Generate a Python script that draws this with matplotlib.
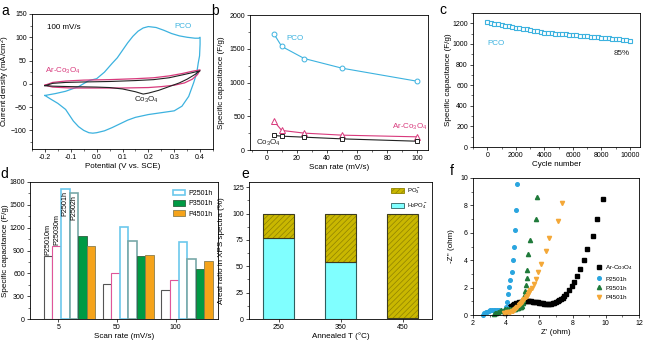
import numpy as np
import matplotlib
matplotlib.use("Agg")
import matplotlib.pyplot as plt
from matplotlib.ticker import AutoMinorLocator, MultipleLocator
from matplotlib.patches import Patch

plt.rcParams['font.family'] = ['Liberation Sans', 'DejaVu Sans']
plt.rcParams['mathtext.fontset'] = 'custom'
plt.rcParams['mathtext.rm'] = 'Liberation Sans'
plt.rcParams['mathtext.it'] = 'Liberation Sans:italic'
plt.rcParams['mathtext.bf'] = 'Liberation Sans:bold'
plt.rcParams['mathtext.default'] = 'regular'
plt.rcParams['axes.linewidth'] = 0.6
plt.rcParams['hatch.linewidth'] = 0.5

# ---- (a) CV curves at 100 mV/s ----
pco_v = [-0.20, -0.16, -0.12, -0.07, -0.03, 0.00, 0.03, 0.06, 0.08, 0.10, 0.12, 0.14, 0.16, 0.18,
         0.20, 0.23, 0.26, 0.29, 0.32, 0.35, 0.38, 0.395, 0.40, 0.40, 0.398, 0.393, 0.387, 0.375,
         0.356, 0.33, 0.30, 0.25, 0.20, 0.15, 0.12, 0.09, 0.06, 0.03, 0.00, -0.015, -0.03, -0.05,
         -0.07, -0.09, -0.12, -0.15, -0.18, -0.20]
pco_j = [-25, -21, -16, -6, 7, 11, 25, 44, 56, 72, 88, 102, 113, 120,
         123, 121, 115, 108, 103, 100, 98, 98, 100, 85, 60, 45, 23, 2,
         -27, -48, -58, -62, -66, -72, -78, -86, -94, -101, -105, -106, -105, -100,
         -92, -80, -55, -42, -32, -25]
co_v = [-0.20, -0.17, -0.12, -0.05, 0.05, 0.15, 0.22, 0.28, 0.33, 0.37, 0.40, 0.38, 0.35, 0.32,
        0.28, 0.24, 0.20, 0.18, 0.15, 0.10, 0.05, 0.00, -0.10, -0.17, -0.20]
co_j = [-4, 1, 3, 4, 5, 7, 9, 13, 19, 24, 28, 20, 10, 2, -6, -14, -20, -22, -17, -11, -8, -7, -6, -5, -4]
ar_v = [-0.20, -0.17, -0.12, -0.05, 0.05, 0.15, 0.22, 0.28, 0.33, 0.37, 0.40, 0.39, 0.37, 0.34,
        0.30, 0.25, 0.20, 0.10, 0.00, -0.10, -0.17, -0.20]
ar_j = [-3, 3, 6, 8, 9, 11, 13, 17, 22, 27, 30, 20, 10, 2, -3, -6, -8, -9, -9, -9, -7, -3]

# ---- (b) capacitance vs scan rate ----
scan_rates = [5, 10, 25, 50, 100]
cap_pco = [1715, 1535, 1355, 1212, 1018]
cap_ar = [425, 290, 250, 220, 195]
cap_co = [215, 205, 190, 165, 130]

# ---- (c) cycling ----
cycles = np.arange(0, 10001, 250)
cap_cycle = [1212, 1205, 1198, 1192, 1185, 1178, 1172, 1165, 1158, 1152, 1146, 1140, 1133, 1127,
             1121, 1115, 1110, 1106, 1103, 1100, 1097, 1095, 1092, 1089, 1086, 1083, 1080, 1077,
             1074, 1071, 1068, 1065, 1062, 1058, 1055, 1051, 1047, 1043, 1039, 1034, 1030]

# ---- (d) bar chart ----
d_groups = ['5', '50', '100']
d_names = ['P25010m', 'P25030m', 'P2501h', 'P2502h', 'P3501h', 'P4501h']
d_vals = [[830, 458, 385],
          [960, 610, 515],
          [1712, 1205, 1012],
          [1662, 1022, 787],
          [1092, 822, 655],
          [960, 835, 760]]

# ---- (e) XPS areal ratio ----
e_temps = ['250', '350', '450']
e_h2po4 = [77, 54, 1]
e_po3 = [23, 46, 99]

# ---- (f) Nyquist ----
ar_zr = [3.9, 4.0, 4.1, 4.2, 4.3, 4.4, 4.5, 4.6, 4.7, 4.8, 4.9, 5.0, 5.1, 5.2, 5.3, 5.4, 5.5, 5.6,
         5.7, 5.8, 5.9, 6.0, 6.1, 6.2, 6.3, 6.4, 6.5, 6.6, 6.7, 6.8, 6.9, 7.0, 7.1, 7.2, 7.3, 7.4,
         7.5, 7.6, 7.76, 7.94, 8.08, 8.24, 8.44, 8.68, 8.88, 9.2, 9.48, 9.84]
ar_zi = [0.15, 0.3, 0.45, 0.56, 0.64, 0.72, 0.79, 0.85, 0.89, 0.93, 0.96, 0.98, 0.99, 1.0, 1.0, 1.0,
         0.99, 0.98, 0.96, 0.95, 0.93, 0.9, 0.88, 0.85, 0.83, 0.81, 0.79, 0.78, 0.8, 0.84, 0.9, 0.97,
         1.04, 1.1, 1.18, 1.27, 1.38, 1.51, 1.83, 2.12, 2.44, 2.88, 3.37, 4.05, 4.83, 5.8, 7.02, 8.49]
p250_zr = [2.6, 2.68, 2.76, 2.84, 2.94, 3.04, 3.14, 3.24, 3.34, 3.44, 3.54, 3.64, 3.74, 3.84, 3.92,
           3.96, 4.0, 4.04, 4.08, 4.14, 4.2, 4.36, 4.4, 4.46, 4.52, 4.6, 4.68]
p250_zi = [0.0, 0.12, 0.19, 0.24, 0.29, 0.33, 0.36, 0.37, 0.37, 0.36, 0.34, 0.32, 0.3, 0.28, 0.3,
           0.37, 0.6, 0.98, 1.51, 2.07, 2.54, 3.17, 3.98, 4.98, 6.2, 7.7, 9.56]
p350_zr = [3.24, 3.32, 3.4, 3.5, 3.6, 3.7, 3.84, 3.94, 4.04, 4.14, 4.24, 4.34, 4.44, 4.54, 4.64,
           4.74, 4.84, 4.92, 4.96, 5.0, 5.04, 5.08, 5.14, 5.2, 5.24, 5.28, 5.34, 5.44, 5.78, 5.88]
p350_zi = [0.05, 0.12, 0.17, 0.23, 0.29, 0.34, 0.39, 0.41, 0.42, 0.43, 0.44, 0.45, 0.46, 0.47, 0.48,
           0.5, 0.55, 0.62, 0.68, 0.85, 1.1, 1.41, 1.76, 2.2, 2.68, 3.32, 4.44, 5.46, 7.0, 8.6]
p450_zr = [3.84, 3.94, 4.04, 4.14, 4.24, 4.32, 4.4, 4.47, 4.54, 4.61, 4.68, 4.76, 4.84, 4.9, 4.96,
           5.03, 5.1, 5.17, 5.24, 5.31, 5.38, 5.46, 5.54, 5.68, 5.8, 5.94, 6.1, 6.4, 6.56, 7.1, 7.38]
p450_zi = [0.15, 0.18, 0.2, 0.22, 0.24, 0.26, 0.29, 0.36, 0.44, 0.52, 0.61, 0.7, 0.78, 0.88, 0.98,
           1.08, 1.17, 1.29, 1.41, 1.53, 1.66, 1.8, 1.95, 2.24, 2.63, 3.12, 3.73, 4.68, 5.61, 6.88, 8.17]

C_PCO = '#3cb2df'
C_PINK = '#d8397c'
C_BLK = '#222222'
TICK_FS = 5.0
LAB_FS = 5.8
ANN_FS = 5.8

W, H = 650, 341


def px_axes(fig, left, top, right, bottom):
    return fig.add_axes([left / W, 1 - bottom / H, (right - left) / W, (bottom - top) / H])


def style(ax, xminor=True, yminor=True):
    ax.tick_params(which='major', direction='out', length=2.5, width=0.5, labelsize=TICK_FS, pad=1.2)
    ax.tick_params(which='minor', direction='out', length=1.4, width=0.4)
    if xminor:
        ax.xaxis.set_minor_locator(AutoMinorLocator(2))
    if yminor:
        ax.yaxis.set_minor_locator(AutoMinorLocator(2))


fig = plt.figure(figsize=(6.5, 3.41), dpi=100)

# (a)
ax = px_axes(fig, 32, 14, 213, 149)
ax.plot(pco_v, pco_j, color=C_PCO, lw=0.9)
ax.plot(ar_v, ar_j, color=C_PINK, lw=0.9)
ax.plot(co_v, co_j, color=C_BLK, lw=0.8)
ax.set_xlim(-0.25, 0.45)
ax.set_ylim(-140, 150)
ax.yaxis.set_major_locator(MultipleLocator(50))
ax.set_xticks([-0.2, -0.1, 0.0, 0.1, 0.2, 0.3, 0.4])
ax.set_xticklabels(['-0.2', '-0.1', '0.0', '0.1', '0.2', '0.3', '0.4'])
style(ax)
ax.set_xlabel('Potential (V vs. SCE)', fontsize=LAB_FS, labelpad=1)
ax.set_ylabel('Current density (mA/cm$^2$)', fontsize=LAB_FS)
ax.yaxis.set_label_coords(-0.108, 0.5)
ax.text(-0.192, 120, '100 mV/s', fontsize=ANN_FS, va='center')
ax.text(0.30, 124, 'PCO', fontsize=ANN_FS, color=C_PCO, va='center')
ax.text(-0.198, 27, 'Ar-Co$_3$O$_4$', fontsize=ANN_FS, color=C_PINK, va='center')
ax.text(0.145, -35, 'Co$_3$O$_4$', fontsize=ANN_FS, color=C_BLK, va='center')

# (b)
ax = px_axes(fig, 250, 15, 428, 150)
ax.plot(scan_rates, cap_pco, '-o', color=C_PCO, mfc='white', ms=3.5, mew=0.7, lw=0.8)
ax.plot(scan_rates, cap_ar, '-^', color=C_PINK, mfc='white', ms=3.8, mew=0.7, lw=0.8)
ax.plot(scan_rates, cap_co, '-s', color=C_BLK, mfc='white', ms=3.2, mew=0.7, lw=0.8)
ax.set_xlim(-11, 107)
ax.set_ylim(0, 2000)
ax.xaxis.set_major_locator(MultipleLocator(20))
ax.yaxis.set_major_locator(MultipleLocator(500))
style(ax)
ax.set_xlabel('Scan rate (mV/s)', fontsize=LAB_FS, labelpad=1)
ax.set_ylabel('Specific capacitance (F/g)', fontsize=LAB_FS)
ax.yaxis.set_label_coords(-0.14, 0.5)
ax.text(13, 1655, 'PCO', fontsize=ANN_FS, color=C_PCO, va='center')
ax.text(83, 340, 'Ar-Co$_3$O$_4$', fontsize=ANN_FS, color=C_PINK, va='center')
ax.text(-7, 105, 'Co$_3$O$_4$', fontsize=ANN_FS, color=C_BLK, va='center')

# (c)
ax = px_axes(fig, 473, 13, 640, 147)
ax.plot(cycles, cap_cycle, 's', color=C_PCO, mfc='white', ms=3.0, mew=0.8, ls='none')
ax.set_xlim(-1000, 10700)
ax.set_ylim(0, 1300)
ax.xaxis.set_major_locator(MultipleLocator(2000))
ax.yaxis.set_major_locator(MultipleLocator(200))
style(ax)
ax.set_xlabel('Cycle number', fontsize=LAB_FS, labelpad=1)
ax.set_ylabel('Specific capacitance (F/g)', fontsize=LAB_FS)
ax.yaxis.set_label_coords(-0.125, 0.5)
ax.text(0, 1005, 'PCO', fontsize=ANN_FS, color=C_PCO, va='center')
ax.text(10000, 905, '85%', fontsize=ANN_FS, color=C_BLK, va='center', ha='right')

# (d)
ax = px_axes(fig, 30, 182, 218, 319)
bw = 0.145
x0 = np.arange(len(d_groups))
d_face = ['white', 'white', 'white', 'white', '#009a44', '#f5a31a']
d_edge = ['#555555', '#e0559a', '#6cc8ec', '#78a8a8', '#2d6040', '#8a7e4e']
d_lw = [0.8, 0.8, 1.2, 1.2, 0.6, 0.6]
bars = []
for j, vals in enumerate(d_vals):
    b = ax.bar(x0 + (j - 1.17) * bw, vals, bw, color=d_face[j], edgecolor=d_edge[j],
               linewidth=d_lw[j], label=d_names[j])
    bars.append(b)
for j in range(4):
    xc = x0[0] + (j - 1.17) * bw
    v = d_vals[j][0]
    if v > 1500:
        ax.text(xc, v - 30, d_names[j], rotation=90, fontsize=5.2, ha='center', va='top')
    else:
        ax.text(xc, v + 15, d_names[j], rotation=90, fontsize=5.2, ha='center', va='bottom')
ax.set_xlim(-0.48, 2.72)
ax.set_ylim(0, 1800)
ax.set_xticks(x0)
ax.set_xticklabels(d_groups)
ax.yaxis.set_major_locator(MultipleLocator(300))
style(ax, xminor=False)
ax.set_xlabel('Scan rate (mV/s)', fontsize=LAB_FS, labelpad=1)
ax.set_ylabel('Specific capacitance (F/g)', fontsize=LAB_FS)
ax.yaxis.set_label_coords(-0.11, 0.5)
ax.legend([bars[2], bars[4], bars[5]], [d_names[2], d_names[4], d_names[5]], loc='upper right',
          bbox_to_anchor=(1.0, 0.98), fontsize=5, frameon=False, handlelength=1.8,
          handleheight=0.9, labelspacing=0.45, handletextpad=0.5, borderaxespad=0.3)

# (e)
ax = px_axes(fig, 249, 182, 432, 319)
xe = np.arange(len(e_temps))
ax.bar(xe, e_h2po4, 0.5, color='#80ffff', edgecolor='#2f5f5f', linewidth=0.8)
ax.bar(xe, e_po3, 0.5, bottom=e_h2po4, color='#c9b700', edgecolor='#8f8200', hatch='//////',
       linewidth=0)
ax.bar(xe, e_po3, 0.5, bottom=e_h2po4, fill=False, edgecolor='#3c3c20', linewidth=0.8)
ax.set_xlim(-0.48, 2.47)
ax.set_ylim(0, 130)
ax.set_xticks(xe)
ax.set_xticklabels(e_temps)
ax.yaxis.set_major_locator(MultipleLocator(25))
style(ax, xminor=False)
ax.set_xlabel('Annealed T (\u00b0C)', fontsize=LAB_FS, labelpad=1)
ax.set_ylabel('Areal ratio in XPS spectra (%)', fontsize=LAB_FS)
ax.yaxis.set_label_coords(-0.131, 0.5)
h_po3 = Patch(facecolor='#c9b700', edgecolor='#8f8200', hatch='//////', linewidth=0.6)
h_h2 = Patch(facecolor='#80ffff', edgecolor='#2f5f5f', linewidth=0.6)
ax.legend([h_po3, h_h2], ['PO$_3^-$', 'H$_2$PO$_4^-$'], loc='upper right', fontsize=4.3,
          frameon=False, handlelength=2.2, handleheight=1.0, labelspacing=0.9,
          handletextpad=0.4, borderaxespad=0.4)

# (f)
ax = px_axes(fig, 473, 178, 639, 315)
ax.plot(ar_zr, ar_zi, 's', color='black', ms=2.6, ls='none', label='Ar-Co$_3$O$_4$', clip_on=False)
ax.plot(p250_zr, p250_zi, 'o', color='#2aa5df', ms=2.6, ls='none', label='P2501h', clip_on=False)
ax.plot(p350_zr, p350_zi, '^', color='#1f7a3a', ms=3.0, ls='none', label='P3501h', clip_on=False)
ax.plot(p450_zr, p450_zi, 'v', color='#f4a838', ms=3.0, ls='none', label='P4501h', clip_on=False)
ax.set_xlim(2, 12)
ax.set_ylim(0, 10)
ax.xaxis.set_major_locator(MultipleLocator(2))
ax.yaxis.set_major_locator(MultipleLocator(2))
style(ax)
ax.set_xlabel("Z' (ohm)", fontsize=LAB_FS, labelpad=1)
ax.set_ylabel("-Z'' (ohm)", fontsize=LAB_FS)
ax.yaxis.set_label_coords(-0.108, 0.5)
ax.legend(loc='lower right', bbox_to_anchor=(1.0, 0.07), fontsize=4.5, frameon=False,
          handlelength=1.0, handletextpad=0.5, labelspacing=0.6, markerscale=1.0)

# panel letters
for lab, (px, py) in zip('abcdef', [(5, 11), (215, 11), (443, 10), (4, 174), (245, 174), (452, 171)]):
    fig.text(px / W, 1 - py / H, lab, fontsize=10, ha='center', va='center')

fig.savefig('out.png', dpi=100)
